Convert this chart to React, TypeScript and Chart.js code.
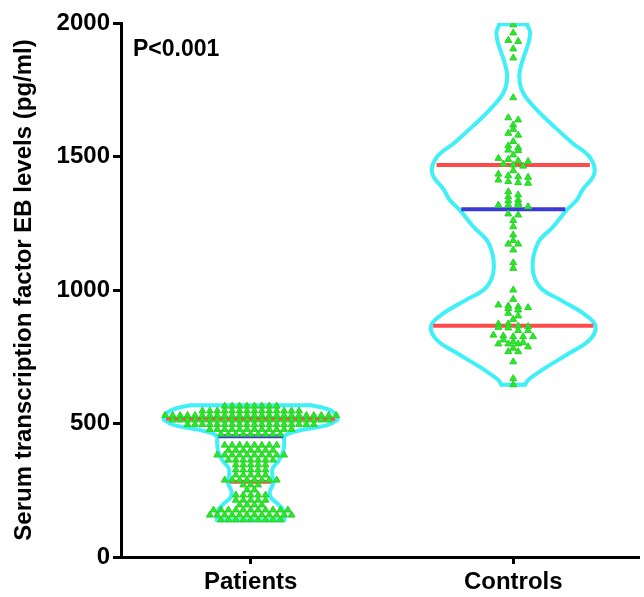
import { useEffect, useRef } from "react";
import { Chart, registerables } from "chart.js";

Chart.register(...registerables);

// ---- data ----
const categories = ["Patients", "Controls"];
const yTicks = [0, 500, 1000, 1500, 2000];
const pValueText = "P<0.001";
const yTitle = "Serum transcription factor EB levels (pg/ml)";

// individual values
const patientsValues: number[] = [
  565, 565, 565, 565, 565, 565, 565, 565,
  547, 547, 547, 547, 547, 547, 547, 547, 547, 547, 547, 547, 547, 547,
  530, 530, 530, 530, 530, 530, 530, 530, 530, 530, 530, 530, 530, 530, 530, 530, 530, 530, 530, 530, 530, 530, 530, 530,
  513, 513, 513, 513, 513, 513, 513, 513, 513, 513, 513, 513, 513, 513, 513, 513, 513, 513, 513, 513, 513, 513,
  496, 496, 496, 496, 496, 496, 496, 496, 496, 496, 496, 496, 496, 496, 496, 496, 496, 496,
  478, 478, 478, 478, 478, 478, 478, 478, 478, 478, 478, 478,
  460, 460, 460, 460, 460, 460, 460, 460, 460,
  419, 419, 419, 419, 419, 419, 419, 419,
  400, 400, 400, 400, 400, 400, 400,
  382, 382, 382, 382, 382, 382, 382, 382, 382, 382,
  363, 363, 363, 363, 363, 363, 363,
  345, 345, 345, 345, 345,
  326, 326, 326, 326, 326,
  307, 307, 307, 307, 307,
  288, 288, 288, 288, 288, 288, 288, 288,
  270, 270, 270,
  251, 251,
  232, 232, 232, 232, 232,
  213, 213, 213, 213, 213,
  195, 195, 195, 195,
  176, 176, 176, 176, 176, 176, 176, 176, 176, 176, 176,
  157, 157, 157, 157, 157, 157, 157, 157, 157, 157, 157, 157,
  139, 139, 139, 139, 139, 139, 139, 139, 139,
];

const controlsValues: number[] = [
  1993, 1963, 1935, 1931, 1903, 1869, 1720,
  1645, 1637, 1618, 1602, 1587, 1580, 1556, 1540, 1533, 1524, 1522, 1506,
  1493, 1489, 1484, 1481, 1472, 1468, 1464, 1447, 1434, 1428, 1424, 1422,
  1412, 1406, 1402, 1400, 1368, 1356, 1349, 1337, 1334, 1325, 1318, 1318, 1318, 1312,
  1285, 1281, 1260, 1237, 1206, 1185, 1172, 1172, 1150, 1102, 1081, 1000, 965,
  944, 940, 937, 934, 931, 925, 913, 903, 890,
  873, 873, 865, 863, 860, 858, 848, 848,
  831, 828, 825, 825, 825, 813, 806, 803, 798, 798, 798, 787, 782, 769, 769,
  731, 668, 645,
];

// quartiles [Q1, median, Q3]
const patientsQuartiles = [282, 452, 518];
const controlsQuartiles = [866, 1302, 1468];

// violin density profile: value levels (bottom -> top) and half widths (category units)
const patientsViolinLevels = [138, 160, 180, 200, 220, 240, 260, 280, 300, 330, 360, 380, 400, 430, 450, 462, 476, 494, 510, 521, 535, 550, 560, 568];
const patientsViolinHalfWidths = [0.128, 0.128, 0.121, 0.102, 0.079, 0.072, 0.079, 0.087, 0.083, 0.083, 0.106, 0.117, 0.125, 0.128, 0.128, 0.143, 0.196, 0.291, 0.325, 0.332, 0.325, 0.302, 0.272, 0.226];

const controlsViolinLevels = [645, 663, 712, 764, 813, 866, 914, 962, 1011, 1082, 1176, 1236, 1300, 1337, 1375, 1438, 1498, 1550, 1610, 1674, 1738, 1800, 1861, 1925, 1965, 1995];
const controlsViolinHalfWidths = [0.045, 0.057, 0.128, 0.215, 0.291, 0.313, 0.264, 0.181, 0.102, 0.074, 0.094, 0.151, 0.204, 0.242, 0.264, 0.309, 0.291, 0.226, 0.158, 0.091, 0.038, 0.023, 0.036, 0.058, 0.064, 0.053];

// ---- styles ----
const FONT = "'Liberation Sans', Arial, Helvetica, sans-serif";
const CYAN = "#3ff0f6";
const RED = "#ff4a4a";
const BLUE = "#3a3ad8";
const GREEN = "#22ee22";
const GREEN_EDGE = "#30cc30";

function swarm(values: number[], center: number, spacing: number, tol: number) {
  const sorted = [...values].sort((a, b) => b - a);
  const rows: number[][] = [];
  for (const v of sorted) {
    const row = rows[rows.length - 1];
    if (row && row[0] - v <= tol) row.push(v);
    else rows.push([v]);
  }
  const pts: { x: number; y: number }[] = [];
  for (const row of rows) {
    const n = row.length;
    row.forEach((v, i) => pts.push({ x: center + (i - (n - 1) / 2) * spacing, y: v }));
  }
  return pts;
}

function halfWidthAt(levels: number[], hws: number[], v: number) {
  if (v <= levels[0]) return hws[0];
  for (let i = 1; i < levels.length; i++) {
    if (v <= levels[i]) {
      const t = (v - levels[i - 1]) / (levels[i] - levels[i - 1]);
      return hws[i - 1] + t * (hws[i] - hws[i - 1]);
    }
  }
  return hws[hws.length - 1];
}

function violinDatasets(center: number, levels: number[], hws: number[], quart: number[]) {
  const outline = {
    type: "scatter" as const,
    showLine: true,
    borderColor: CYAN,
    borderWidth: 4,
    pointRadius: 0,
    fill: false,
    borderCapStyle: "round" as const,
    borderJoinStyle: "round" as const,
    order: 3,
  };
  const n = levels.length;
  const sets: any[] = [
    { ...outline, tension: 0.4, data: levels.map((l, i) => ({ x: center - hws[i], y: l })) },
    { ...outline, tension: 0.4, data: levels.map((l, i) => ({ x: center + hws[i], y: l })) },
    { ...outline, tension: 0, data: [{ x: center - hws[0], y: levels[0] }, { x: center + hws[0], y: levels[0] }] },
    { ...outline, tension: 0, data: [{ x: center - hws[n - 1], y: levels[n - 1] }, { x: center + hws[n - 1], y: levels[n - 1] }] },
  ];
  quart.forEach((q, i) => {
    const hw = halfWidthAt(levels, hws, q) - 0.008;
    sets.push({
      type: "scatter",
      showLine: true,
      tension: 0,
      borderColor: i === 1 ? BLUE : RED,
      borderWidth: 4,
      pointRadius: 0,
      order: 2,
      data: [{ x: center - hw, y: q }, { x: center + hw, y: q }],
    });
  });
  return sets;
}

const pText = {
  id: "pText",
  afterDraw(chart: any) {
    const ctx = chart.ctx;
    ctx.save();
    ctx.font = `bold 23px ${FONT}`;
    ctx.fillStyle = "#000";
    ctx.textBaseline = "alphabetic";
    ctx.textAlign = "left";
    ctx.fillText(pValueText, 133, 56);
    ctx.restore();
  },
};

export default function App() {
  const ref = useRef<HTMLCanvasElement>(null);
  useEffect(() => {
    if (!ref.current) return;
    const pts = (values: number[], c: number, sp: number, tol: number) => ({
      type: "scatter" as const,
      data: swarm(values, c, sp, tol),
      pointStyle: "triangle",
      pointRadius: 4,
      backgroundColor: GREEN,
      borderColor: GREEN_EDGE,
      borderWidth: 1,
      showLine: false,
      order: 1,
    });
    const datasets: any[] = [
      ...violinDatasets(1, patientsViolinLevels, patientsViolinHalfWidths, patientsQuartiles),
      ...violinDatasets(2, controlsViolinLevels, controlsViolinHalfWidths, controlsQuartiles),
      pts(patientsValues, 1, 0.0283, 5),
      pts(controlsValues, 2, 0.0377, 12),
    ];
    const chart = new Chart(ref.current, {
      type: "scatter",
      data: { datasets },
      plugins: [pText],
      options: {
        responsive: false,
        animation: false,
        events: [],
        layout: { padding: { top: 23, right: 0, left: 0, bottom: 0 } },
        plugins: { legend: { display: false }, tooltip: { enabled: false } },
        scales: {
          x: {
            type: "linear",
            min: 0.506,
            max: 2.479,
            afterBuildTicks: (s: any) => {
              s.ticks = [{ value: 1 }, { value: 2 }];
            },
            afterFit: (s: any) => {
              s.height = 40;
            },
            ticks: {
              autoSkip: false,
              maxRotation: 0,
              padding: 4,
              color: "#000",
              font: { family: FONT, size: 24, weight: "bold" },
              callback: (v: any) => categories[Math.round(v) - 1] ?? "",
            },
            grid: { display: true, drawOnChartArea: false, drawTicks: true, tickLength: 7, tickWidth: 3, tickColor: "#000" },
            border: { display: true, color: "#000", width: 3 },
          },
          y: {
            type: "linear",
            min: 0,
            max: 2000,
            afterBuildTicks: (s: any) => {
              s.ticks = yTicks.map((v) => ({ value: v }));
            },
            afterFit: (s: any) => {
              s.width = 121;
            },
            ticks: {
              padding: 3,
              color: "#000",
              font: { family: FONT, size: 24, weight: "bold" },
              callback: (v: any) => String(v),
            },
            title: {
              display: true,
              text: yTitle,
              color: "#000",
              font: { family: FONT, size: 24, weight: "bold" },
              padding: { top: 10, bottom: 0 },
            },
            grid: { display: true, drawOnChartArea: false, drawTicks: true, tickLength: 8, tickWidth: 3, tickColor: "#000" },
            border: { display: true, color: "#000", width: 3 },
          },
        },
      },
    });
    return () => chart.destroy();
  }, []);
  return (
    <div style={{ position: "fixed", left: 0, top: 0, width: 644, height: 597, background: "#fff" }}>
      <canvas ref={ref} width={644} height={597} style={{ width: 644, height: 597, display: "block" }} />
    </div>
  );
}
